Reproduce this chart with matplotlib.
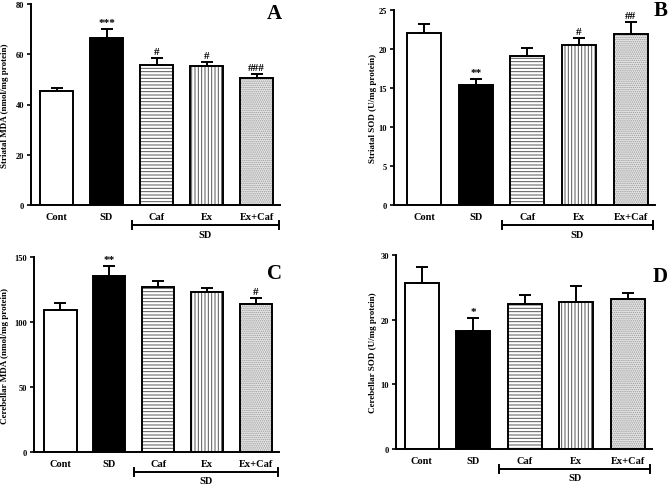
import matplotlib
matplotlib.use("Agg")
import matplotlib.pyplot as plt
import matplotlib.transforms as mtransforms

plt.rcParams['font.family'] = ['Liberation Serif', 'DejaVu Serif']
plt.rcParams['font.weight'] = 'bold'
plt.rcParams['hatch.linewidth'] = 0.7

groups = ['Cont', 'SD', 'Caf', 'Ex', 'Ex+Caf']

mda_striatum = [45.4, 66.4, 55.8, 55.2, 50.6]
mda_striatum_sem = [1.1, 3.7, 2.6, 1.9, 1.5]
sod_striatum = [22.1, 15.4, 19.1, 20.5, 21.9]
sod_striatum_sem = [1.1, 0.8, 1.0, 0.9, 1.6]
mda_cereb = [109.2, 135.6, 127.2, 122.8, 113.8]
mda_cereb_sem = [5.2, 7.4, 4.3, 3.4, 4.7]
sod_cereb = [25.7, 18.2, 22.5, 22.8, 23.2]
sod_cereb_sem = [2.4, 2.0, 1.3, 2.4, 1.0]

sig_a = ['', '***', '#', '#', '###']
sig_b = ['', '**', '', '#', '##']
sig_c = ['', '**', '', '', '#']
sig_d = ['', '*', '', '', '']

# face colour / hatch per group
faces = ['white', 'black', 'white', 'white', '#e6e6e6']
hatches = [None, None, '-----', '|||||', '........']
hatch_cols = ['black', 'black', '#555555', '#555555', '#9a9a9a']

W, H = 669, 485


def px_axes(fig, left, right, top, bottom):
    """axes from pixel box of the reference"""
    return fig.add_axes([left / W, 1 - bottom / H, (right - left) / W, (bottom - top) / H])


def panel(ax, vals, sem, sig, ymax, yticks, ylabel, lab_off, letter, letter_xy, fig, xlim):
    x = list(range(len(groups)))
    # hatch layer first, then outline on top
    for i in x:
        ax.bar(i, vals[i], width=0.66, color=faces[i], edgecolor=hatch_cols[i],
               hatch=hatches[i], linewidth=0, zorder=2)
    ax.bar(x, vals, width=0.66, color='none', edgecolor='black', linewidth=1.4, zorder=3)
    ax.errorbar(x, vals, yerr=[[0] * len(x), sem], fmt='none', ecolor='black',
                elinewidth=1.4, capsize=4, capthick=1.4, zorder=4)
    for i in x:
        if sig[i]:
            ax.text(i, vals[i] + sem[i] + ymax * 0.01, sig[i], ha='center', va='bottom',
                    fontsize=8, fontweight='bold')
    ax.set_xlim(*xlim)
    ax.set_ylim(0, ymax)
    ax.set_yticks(yticks)
    ax.set_xticks(x)
    ax.set_xticklabels(groups, fontsize=7.5, fontweight='bold')
    ax.tick_params(axis='y', labelsize=6, width=1.2, length=3, pad=2)
    ax.tick_params(axis='x', length=0, pad=5)
    for lab in ax.get_yticklabels():
        lab.set_fontweight('bold')
    ax.spines['top'].set_visible(False)
    ax.spines['right'].set_visible(False)
    ax.spines['left'].set_linewidth(1.4)
    ax.spines['bottom'].set_linewidth(1.4)
    ax.set_ylabel(ylabel, fontsize=6.5, fontweight='bold')
    w = ax.get_position().width * W
    ax.yaxis.set_label_coords(-lab_off / w, 0.5)

    # SD bracket under the treated groups
    trans = mtransforms.blended_transform_factory(ax.transData, ax.transAxes)
    h = ax.get_position().height * H
    yb = -20 / h
    xl = 1.5
    xr = xlim[1] - 0.03
    ax.plot([xl, xr], [yb, yb], color='black', lw=1.4, transform=trans, clip_on=False)
    for xe in (xl, xr):
        ax.plot([xe, xe], [yb - 4 / h, yb + 4 / h], color='black', lw=1.4,
                transform=trans, clip_on=False)
    ax.text((xl + xr) / 2, yb - 9 / h, 'SD', transform=trans, ha='center', va='center',
            fontsize=7.5, fontweight='bold')

    fig.text(letter_xy[0] / W, 1 - letter_xy[1] / H, letter, fontsize=15, fontweight='bold',
             ha='center', va='center')


fig = plt.figure(figsize=(W / 100, H / 100), dpi=100)

ax_a = px_axes(fig, 31, 280, 5, 206)
panel(ax_a, mda_striatum, mda_striatum_sem, sig_a, 80, [0, 20, 40, 60, 80],
      'Striatal MDA (nmol/mg protein)', 22, 'A', (274, 14), fig, (-0.51, 4.47))

ax_b = px_axes(fig, 394, 655, 11, 206)
panel(ax_b, sod_striatum, sod_striatum_sem, sig_b, 25, [0, 5, 10, 15, 20, 25],
      'Striatal SOD (U/mg protein)', 17, 'B', (661, 11), fig, (-0.58, 4.47))

ax_c = px_axes(fig, 34, 279, 258, 453)
panel(ax_c, mda_cereb, mda_cereb_sem, sig_c, 150, [0, 50, 100, 150],
      'Cerebellar MDA (nmol/mg protein)', 25, 'C', (275, 274), fig, (-0.54, 4.47))

ax_d = px_axes(fig, 396, 652, 256, 450)
panel(ax_d, sod_cereb, sod_cereb_sem, sig_d, 30, [0, 10, 20, 30],
      'Cerebellar SOD (U/mg protein)', 19, 'D', (660, 277), fig, (-0.5, 4.47))

fig.savefig('out.png', dpi=100)
